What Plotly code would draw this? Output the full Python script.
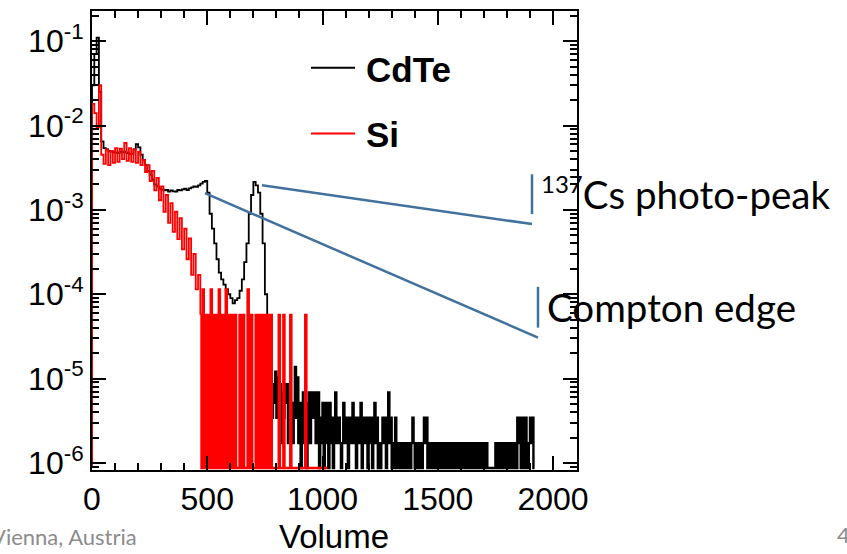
import plotly.graph_objects as go

# ---------------- data ----------------
BIN_MAIN = 10          # volume units per bin, low-energy part
BIN_FINE = 5           # volume units per bin, sparse tail
CDTE_TAIL_START = 770
SI_TAIL_START = 470
CDTE_UNIT = 1.72e-6    # normalised height of one count, CdTe
SI_UNIT = 5.7e-5       # normalised height of one count, Si

# CdTe, bins of 10 from 0 to 760
cdte_main = [3.0e-2, 7.0e-2, 1.1e-1, 2.5e-2, 6.5e-3, 5.4e-3, 5.2e-3, 5.0e-3, 4.9e-3, 4.8e-3,
             4.8e-3, 4.7e-3, 4.9e-3, 4.8e-3, 4.9e-3, 4.7e-3, 4.6e-3, 4.6e-3, 5.2e-3, 6.0e-3,
             5.5e-3, 4.5e-3, 3.9e-3, 3.4e-3, 2.9e-3, 2.6e-3, 2.3e-3, 2.0e-3, 1.9e-3, 1.8e-3,
             1.75e-3, 1.7e-3, 1.72e-3, 1.65e-3, 1.7e-3, 1.66e-3, 1.65e-3, 1.72e-3, 1.7e-3, 1.75e-3,
             1.78e-3, 1.72e-3, 1.8e-3, 1.85e-3, 1.9e-3, 1.88e-3, 1.95e-3, 2.05e-3, 2.15e-3, 2.2e-3,
             1.6e-3, 9.0e-4, 6.0e-4, 4.0e-4, 2.6e-4, 1.8e-4, 1.5e-4, 1.3e-4, 1.15e-4, 1.0e-4,
             9.0e-5, 7.8e-5, 8.5e-5, 9.0e-5, 1.1e-4, 1.5e-4, 2.4e-4, 4.0e-4, 9.0e-4, 1.5e-3,
             2.15e-3, 1.95e-3, 1.6e-3, 9.0e-4, 4.0e-4, 1.0e-4, 1.8e-5]

# CdTe sparse tail, counts in bins of 5 from 770 to 1915
cdte_tail_counts = [
    4, 7, 2, 5, 3, 7, 2, 6, 3, 5, 1, 4, 2, 5, 3, 5, 1, 4, 2, 3,   # 770-865
    1, 3, 8, 2, 6, 1, 3, 0, 2, 4, 1, 3, 0, 2, 4, 1, 3, 4, 2, 4,   # 870-965
    1, 3, 4, 0, 2, 1, 3, 0, 2, 3, 1, 0, 3, 1, 2, 0, 1, 4, 2, 1,   # 970-1065
    2, 1, 0, 1, 3, 2, 1, 2, 0, 1, 2, 1, 3, 1, 2, 0, 1, 2, 1, 3,   # 1070-1165
    0, 1, 2, 1, 2, 0, 2, 1, 2, 0, 1, 3, 1, 2, 0, 1, 0, 1, 2, 1,   # 1170-1265
    2, 0, 1, 4, 1, 2, 0, 1, 0, 2, 1, 0, 1, 0, 1, 0, 1, 1, 0, 1,   # 1270-1365
    0, 1, 0, 1, 2, 1, 0, 1, 0, 1, 0, 1, 0, 1, 2, 1, 2, 0, 1, 0,   # 1370-1465
    1, 0, 0, 1, 0, 1, 0, 1, 0, 0, 1, 0, 1, 0, 1, 0, 0, 1, 0, 1,   # 1470-1565
    0, 1, 0, 1, 0, 1, 0, 1, 0, 1, 1, 0, 1, 0, 1, 0, 1, 0, 1, 0,   # 1570-1665
    1, 0, 1, 0, 1, 0, 1, 0, 1, 0, 0, 0, 0, 0, 0, 0, 1, 0, 0, 1,   # 1670-1765
    0, 1, 0, 1, 0, 1, 0, 1, 0, 1, 0, 1, 0, 1, 0, 2, 1, 2, 0, 1,   # 1770-1865
    2, 0, 2, 1, 0, 1, 2, 1, 2, 0,                                 # 1870-1915
]

# Si, bins of 10 from 0 to 460
si_main = [1.8e-2, 1.4e-2, 9.5e-3, 3.0e-2, 4.5e-3,
           3.5e-3, 5.2e-3, 3.4e-3, 5.0e-3, 3.6e-3, 5.4e-3, 3.7e-3, 5.3e-3, 4.0e-3, 6.2e-3,
           3.8e-3, 5.4e-3, 3.7e-3, 5.2e-3, 3.6e-3, 4.9e-3, 3.4e-3,
           3.9e-3, 2.8e-3, 3.4e-3, 2.2e-3, 2.9e-3, 1.7e-3, 2.4e-3, 1.3e-3, 1.9e-3, 9.5e-4,
           1.5e-3, 7.0e-4, 1.2e-3, 5.5e-4, 9.5e-4, 4.5e-4, 8.0e-4, 3.4e-4, 6.0e-4, 2.6e-4,
           4.6e-4, 1.7e-4, 3.0e-4, 1.14e-4, 1.7e-4]

# Si sparse tail, counts in bins of 5 from 470 to 1015
si_tail_counts = [
    1, 0, 2, 0, 1, 0, 1, 1, 0, 2, 0, 1, 0, 1, 0, 1, 2, 0, 1, 0,   # 470-565
    1, 0, 2, 1, 0, 1, 0, 1, 0, 0, 1, 0, 0, 0, 1, 0, 0, 1, 0, 0,   # 570-665
    0, 2, 0, 0, 1, 0, 0, 0, 1, 0, 0, 1, 0, 1, 0, 0, 1, 0, 0, 1,   # 670-765
    0, 1, 0, 0, 0, 0, 0, 0, 1, 0, 0, 0, 1, 0, 0, 0, 0, 0, 1, 0,   # 770-865
    0, 0, 0, 0, 0, 0, 0, 0, 0, 0, 0, 1, 0, 0, 0, 0, 0, 0, 0, 0,   # 870-965
    0, 0, 0, 0, 0, 0, 0, 0, 0, 0,                                 # 970-1015
]

y_tickvals = [1e-6, 1e-5, 1e-4, 1e-3, 1e-2, 1e-1]
y_ticktext = ["10<sup>-6</sup>", "10<sup>-5</sup>", "10<sup>-4</sup>",
              "10<sup>-3</sup>", "10<sup>-2</sup>", "10<sup>-1</sup>"]
x_tickvals = [0, 500, 1000, 1500, 2000]
series_names = ["CdTe", "Si"]
series_colors = ["#000000", "#ff0000"]

# ---------------- build histogram outlines ----------------
Y_LOG_RANGE = [-6.083, -0.643]
BASELINE = 10 ** -6.06   # empty bins are drawn down to the axis floor


def spectrum(main_vals, tail_counts, tail_start, unit):
    """Return (main part, tail part) of a step outline that starts and ends on the baseline."""
    mx = [0] + [i * BIN_MAIN for i in range(len(main_vals))]
    my = [BASELINE] + list(main_vals)
    tx = [tail_start + i * BIN_FINE for i in range(len(tail_counts))]
    ty = [c * unit if c > 0 else BASELINE for c in tail_counts]
    tx = tx + [tx[-1] + BIN_FINE]
    ty = ty + [BASELINE]
    # the main outline runs on into the first tail bin so the two parts join up
    return (mx + tx[:1], my + ty[:1]), (tx, ty)


fig = go.Figure()
for name, color, main_vals, tail, start, unit in [
    (series_names[0], series_colors[0], cdte_main, cdte_tail_counts, CDTE_TAIL_START, CDTE_UNIT),
    (series_names[1], series_colors[1], si_main, si_tail_counts, SI_TAIL_START, SI_UNIT),
]:
    (mx, my), (tx, ty) = spectrum(main_vals, tail, start, unit)
    fig.add_trace(go.Scatter(x=mx, y=my, mode="lines", name=name, legendgroup=name,
                             line_shape="hv", line=dict(color=color, width=1.8),
                             showlegend=False, hoverinfo="skip"))
    fig.add_trace(go.Scatter(x=tx, y=ty, mode="lines", name=name, legendgroup=name,
                             line_shape="hv", line=dict(color=color, width=2.4),
                             showlegend=False, hoverinfo="skip"))

# ---------------- layout ----------------
W, H = 847, 554
L, R, T, B = 92, 270, 9, 84
PW, PH = W - L - R, H - T - B


def px(xp):
    return (xp - L) / PW


def py(yp):
    return (H - B - yp) / PH


ARIAL = "Liberation Sans, Arial, sans-serif"
CALIBRI = "Lato, Carlito, Calibri, sans-serif"
BLUE = "#41719c"

shapes = []
# legend keys
shapes.append(dict(type="line", xref="paper", yref="paper", x0=px(311), x1=px(355),
                   y0=py(66), y1=py(66), line=dict(color=series_colors[0], width=2)))
shapes.append(dict(type="line", xref="paper", yref="paper", x0=px(311), x1=px(355),
                   y0=py(132), y1=py(132), line=dict(color=series_colors[1], width=2)))
# callouts
shapes.append(dict(type="line", xref="paper", yref="paper", x0=px(532), x1=px(532),
                   y0=py(173), y1=py(213), line=dict(color=BLUE, width=2.5)))
shapes.append(dict(type="line", xref="paper", yref="paper", x0=px(538), x1=px(538),
                   y0=py(286), y1=py(327), line=dict(color=BLUE, width=2.5)))
shapes.append(dict(type="line", xref="paper", yref="paper", x0=px(262), x1=px(532),
                   y0=py(184), y1=py(223), line=dict(color=BLUE, width=2.5)))
shapes.append(dict(type="line", xref="paper", yref="paper", x0=px(205), x1=px(538),
                   y0=py(192), y1=py(337), line=dict(color=BLUE, width=2.5)))

annotations = [
    dict(text="<b>CdTe</b>", x=px(364), y=py(68), xanchor="left", yanchor="middle",
         font=dict(family=ARIAL, size=35, color="black")),
    dict(text="<b>Si</b>", x=px(364), y=py(133), xanchor="left", yanchor="middle",
         font=dict(family=ARIAL, size=35, color="black")),
    dict(text="<sup><span style='font-size:24px'>137</span></sup>Cs photo-peak", x=px(539),
         y=py(192), xanchor="left", yanchor="middle",
         font=dict(family=CALIBRI, size=38.5, color="black")),
    dict(text="Compton edge", x=px(545), y=py(306), xanchor="left", yanchor="middle",
         font=dict(family=CALIBRI, size=38.5, color="black")),
    dict(text="Volume", x=px(334), y=py(537), xanchor="center", yanchor="middle",
         font=dict(family=ARIAL, size=33, color="black")),
    dict(text="Vienna, Austria", x=px(139), y=py(537), xanchor="right", yanchor="middle",
         font=dict(family=CALIBRI, size=22, color="#8c8c8c")),
    dict(text="4", x=px(843), y=py(535), xanchor="center", yanchor="middle",
         font=dict(family=CALIBRI, size=22, color="#8c8c8c")),
]
for a in annotations:
    a.update(xref="paper", yref="paper", showarrow=False)

fig.update_layout(
    width=W, height=H, autosize=False,
    margin=dict(l=L, r=R, t=T, b=B, pad=0),
    paper_bgcolor="white", plot_bgcolor="white",
    shapes=shapes, annotations=annotations,
    showlegend=False,
)
fig.update_xaxes(
    range=[0, 2104], tickmode="array", tickvals=x_tickvals,
    ticks="inside", ticklen=14, tickwidth=1.5, tickcolor="black",
    minor=dict(dtick=100, ticks="inside", ticklen=7, tickwidth=1.5, tickcolor="black", showgrid=False),
    showline=True, linewidth=2, linecolor="black", mirror="allticks",
    showgrid=False, zeroline=False,
    tickfont=dict(family=ARIAL, size=32, color="black"),
)
fig.update_yaxes(
    type="log", range=Y_LOG_RANGE, tickmode="array", tickvals=y_tickvals, ticktext=y_ticktext,
    ticks="inside", ticklen=14, tickwidth=1.5, tickcolor="black",
    minor=dict(dtick="D1", ticks="inside", ticklen=7, tickwidth=1.5, tickcolor="black", showgrid=False),
    showline=True, linewidth=2, linecolor="black", mirror="allticks",
    showgrid=False, zeroline=False,
    tickfont=dict(family=ARIAL, size=32, color="black"),
)

fig.write_html("out.html", config={"displayModeBar": False},
               post_script="document.body.style.margin='0';")
